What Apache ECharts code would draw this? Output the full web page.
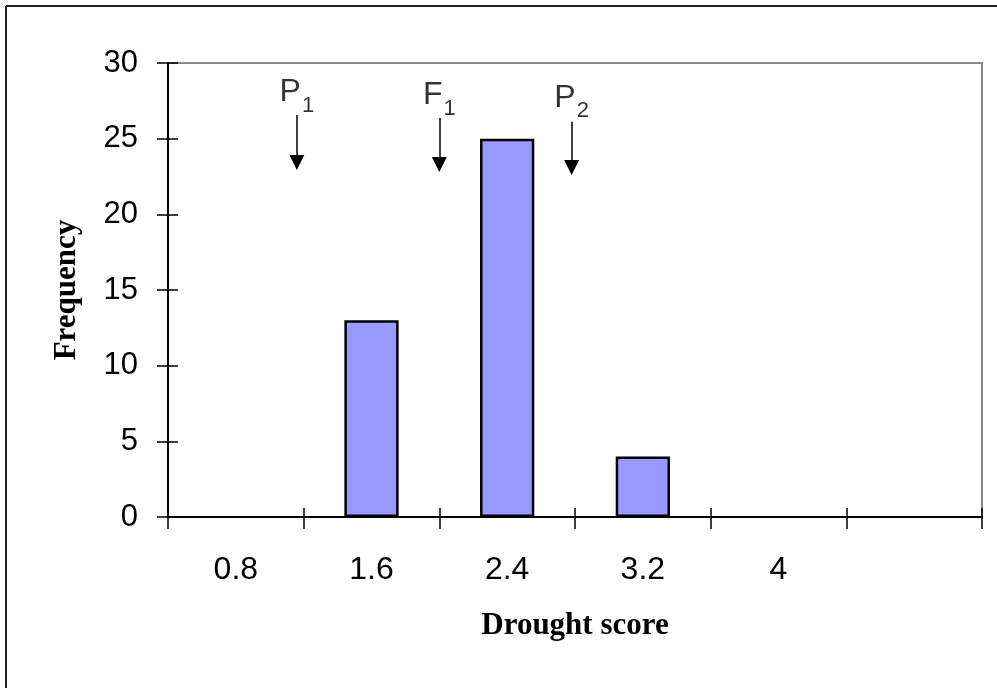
<!DOCTYPE html>
<html><head><meta charset="utf-8">
<script src="https://cdn.jsdelivr.net/npm/echarts@6/dist/echarts.min.js"></script>
<style>html,body{margin:0;padding:0;background:#fff}#c{width:997px;height:688px}</style>
</head><body><div id="c"></div>
<script>
// ---- data ----
const categories = ['0.8', '1.6', '2.4', '3.2', '4', ''];
const frequency = [0, 13, 25, 4, 0, 0];
const yMin = 0, yMax = 30, yStep = 5;
const markerLetters = ['P', 'F', 'P'];
const markerSubs = ['1', '1', '2'];
const markerScore = [1.16, 2.0, 2.78];
const arrowTop = [26.56, 26.37, 26.11];
const arrowEnd = [23.43, 23.29, 23.10];
const labelY = [28.05, 27.85, 27.7];
const scoreMin = 0.4, scoreMax = 5.2;

const chart = echarts.init(document.getElementById('c'), null, {renderer: 'canvas'});
const sans = 'Liberation Sans, Arial, sans-serif';
const serif = 'Liberation Serif, Times New Roman, serif';

const arrowData = markerScore.map((x, i) => ({coords: [[x, arrowTop[i]], [x, arrowEnd[i]]]}));
const labelData = markerScore.map((x, i) => ({value: [x, labelY[i]], letter: markerLetters[i], sub: markerSubs[i]}));
// empty classes (frequency 0) draw no bar
const barData = frequency.map(v => (v === 0 ? null : v));

chart.setOption({
  animation: false,
  backgroundColor: '#fff',
  graphic: [
    {type: 'line', shape: {x1: 6, y1: 6, x2: 997, y2: 6}, style: {stroke: '#222', lineWidth: 2}},
    {type: 'line', shape: {x1: 6, y1: 6, x2: 6, y2: 688}, style: {stroke: '#222', lineWidth: 2}}
  ],
  grid: {left: 168, right: 15, top: 63, bottom: 171, show: true, borderColor: '#888', borderWidth: 2, backgroundColor: 'transparent'},
  xAxis: [
    {type: 'category', data: categories, boundaryGap: true, position: 'bottom',
     axisLine: {lineStyle: {color: '#000', width: 2}},
     axisTick: {show: true, inside: false, length: 12, alignWithLabel: false, lineStyle: {color: '#000', width: 1.5}},
     axisLabel: {fontSize: 32, fontFamily: sans, color: '#000', margin: 37},
     name: 'Drought score', nameLocation: 'middle', nameGap: 93,
     nameTextStyle: {fontFamily: serif, fontWeight: 'bold', fontSize: 31, color: '#000'},
     splitLine: {show: false}},
    {type: 'category', data: categories, boundaryGap: true, position: 'bottom',
     axisLine: {show: false},
     axisTick: {show: true, inside: true, length: 9, lineStyle: {color: '#000', width: 1.5}},
     axisLabel: {show: false}, splitLine: {show: false}},
    {type: 'value', min: scoreMin, max: scoreMax, show: false, splitLine: {show: false}}
  ],
  yAxis: [
    {type: 'value', min: yMin, max: yMax, interval: yStep, position: 'left',
     axisLine: {show: true, lineStyle: {color: '#000', width: 2}},
     axisTick: {show: true, inside: false, length: 11, lineStyle: {color: '#000', width: 1.5}},
     axisLabel: {fontSize: 31, fontFamily: sans, color: '#000', margin: 30},
     splitLine: {show: false},
     name: 'Frequency', nameLocation: 'middle', nameGap: 86,
     nameTextStyle: {fontFamily: serif, fontWeight: 'bold', fontSize: 31, color: '#000'}},
    {type: 'value', min: yMin, max: yMax, interval: yStep, position: 'left',
     axisLine: {show: false},
     axisTick: {show: true, inside: true, length: 10, lineStyle: {color: '#000', width: 1.5}},
     axisLabel: {show: false}, splitLine: {show: false}}
  ],
  series: [
    {type: 'bar', data: barData, xAxisIndex: 0, yAxisIndex: 0, barWidth: '40%',
     itemStyle: {color: '#9999FF', borderColor: '#000', borderWidth: 2.5}},
    {type: 'lines', coordinateSystem: 'cartesian2d', xAxisIndex: 2, yAxisIndex: 0,
     data: arrowData, symbol: ['none', 'triangle'], symbolSize: 15,
     lineStyle: {color: '#000', width: 1.5, opacity: 1}, effect: {show: false}},
    {type: 'scatter', xAxisIndex: 2, yAxisIndex: 0, data: labelData, symbolSize: 1,
     itemStyle: {color: 'rgba(0,0,0,0)'},
     label: {show: true, position: 'inside', align: 'center', verticalAlign: 'middle',
       formatter: p => '{p|' + p.data.letter + '}{s|' + p.data.sub + '}',
       rich: {
         p: {fontSize: 32, fontFamily: sans, color: '#000', lineHeight: 32, verticalAlign: 'top'},
         s: {fontSize: 22, fontFamily: sans, color: '#000', lineHeight: 22, padding: [18, 0, 0, 1], verticalAlign: 'top'}
       }}}
  ]
});
</script>
</body></html>
